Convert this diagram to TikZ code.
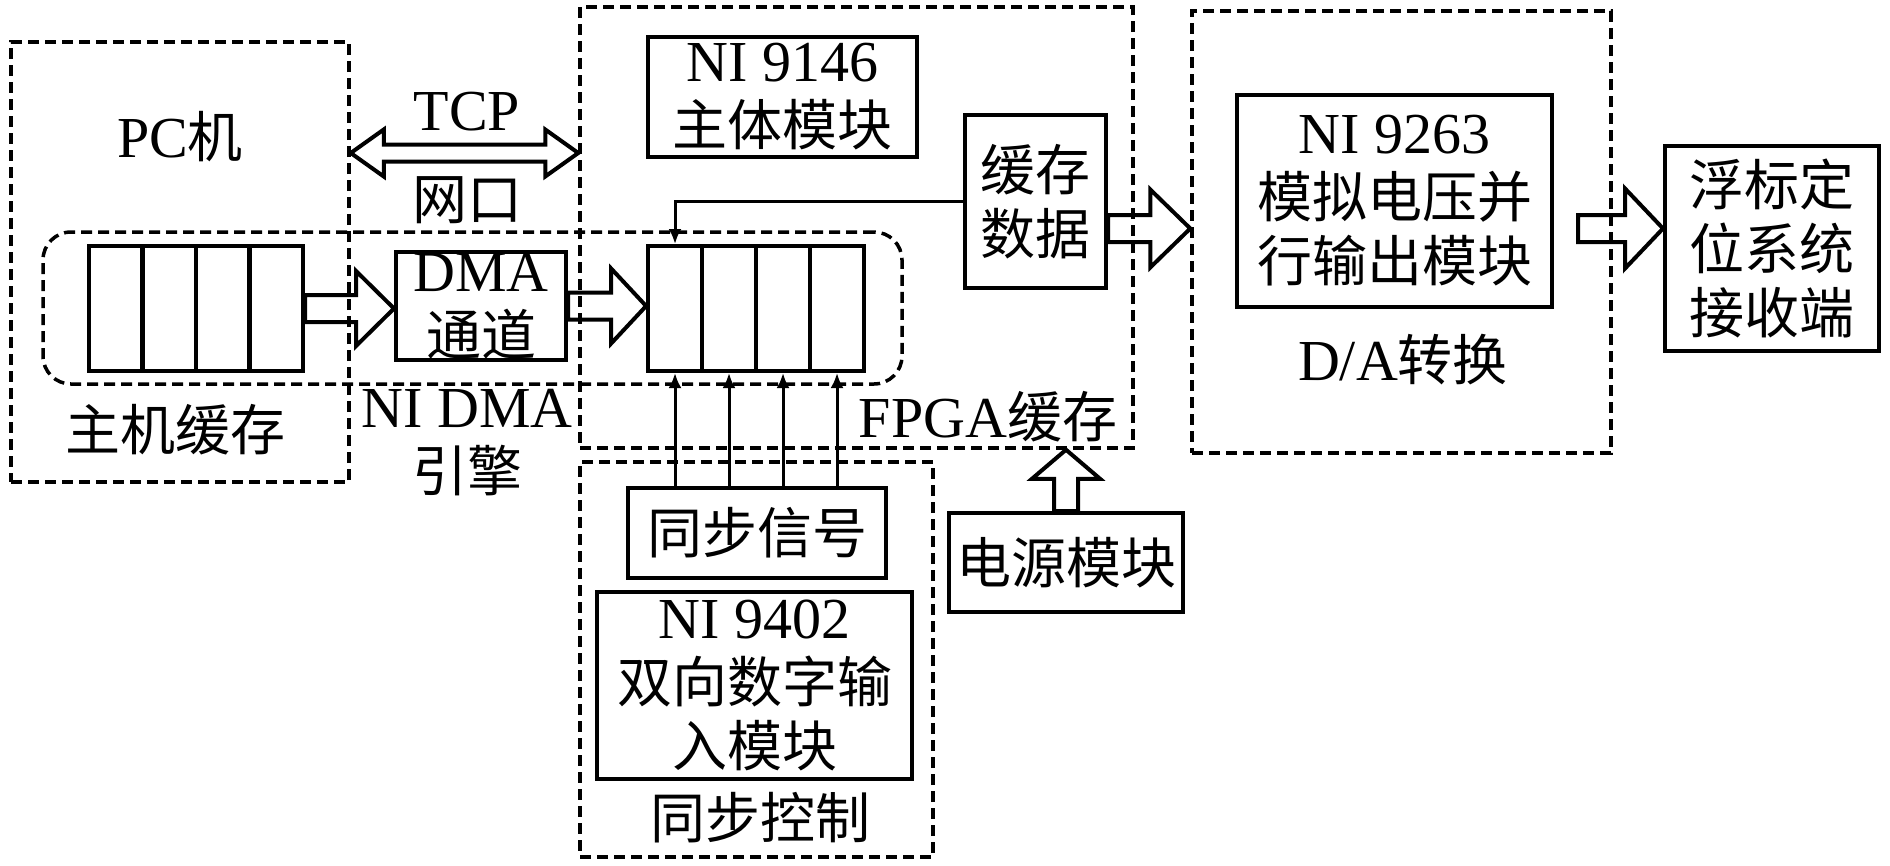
\documentclass[tikz,border=0pt]{standalone}
\usepackage{fontspec}
\setmainfont{Liberation Serif}
\newfontfamily\cjk{Noto Sans CJK SC}
\newcommand\zh[1]{{\cjk\fontsize{55}{64}\selectfont #1}}
\usetikzlibrary{calc,arrows.meta}

\tikzset{
  blk/.style={draw, line width=4pt, align=center, inner sep=0pt, font=\fontsize{58}{64}\selectfont},
  lbl/.style={align=center, inner sep=0pt, font=\fontsize{58}{64}\selectfont},
  grp/.style={draw, line width=3.5pt, dash pattern=on 11pt off 6pt, inner sep=0pt},
  cell/.style={draw, line width=4pt, minimum width=53.75pt, minimum height=125pt, inner sep=0pt},
  sig/.style={line width=3pt, -{Latex[length=15pt,width=13pt]}},
  fat/.style n args={3}{line width=4pt, line join=miter, to path={
    let \p1=($(\tikztotarget)!#3!(\tikztostart)$) in
    ($(\tikztostart)!#1!90:(\tikztotarget)$) -- ($(\p1)!#1!90:(\tikztotarget)$)
    -- ($(\p1)!#2!90:(\tikztotarget)$) -- (\tikztotarget)
    -- ($(\p1)!#2!-90:(\tikztotarget)$) -- ($(\p1)!#1!-90:(\tikztotarget)$)
    -- ($(\tikztostart)!#1!-90:(\tikztotarget)$) -- cycle}},
  twin/.style n args={3}{line width=4pt, line join=miter, to path={
    let \p1=($(\tikztostart)!#3!(\tikztotarget)$), \p2=($(\tikztotarget)!#3!(\tikztostart)$) in
    (\tikztostart) -- ($(\p1)!#2!90:(\tikztotarget)$) -- ($(\p1)!#1!90:(\tikztotarget)$)
    -- ($(\p2)!#1!90:(\tikztotarget)$) -- ($(\p2)!#2!90:(\tikztotarget)$) -- (\tikztotarget)
    -- ($(\p2)!#2!-90:(\tikztotarget)$) -- ($(\p2)!#1!-90:(\tikztotarget)$)
    -- ($(\p1)!#1!-90:(\tikztotarget)$) -- ($(\p1)!#2!-90:(\tikztotarget)$) -- cycle}},
}

\begin{document}
\begin{tikzpicture}[x=1pt,y=-1pt]
\useasboundingbox (0,0) rectangle (1890,865);

% dashed groups
\node[grp, minimum width=338pt, minimum height=440pt] (pc) at (180,262) {};
\node[grp, minimum width=553pt, minimum height=441pt] (fpga) at (856.5,227.5) {};
\node[grp, minimum width=419pt, minimum height=442pt] (da) at (1401.5,232) {};
\node[grp, minimum width=353pt, minimum height=395pt] (ctrl) at (756.5,659.5) {};
\node[grp, rounded corners=28pt, minimum width=859pt, minimum height=152pt] (eng) at (472.5,308) {};

% buffers
\foreach \i in {1,...,4} {
  \node[cell] (hb\i) at ({62.25+53.5*\i},308.5) {};
  \node[cell] (fb\i) at ({621+54*\i},308.5) {};
}

% blocks
\node[blk, minimum width=269pt, minimum height=120pt] (ni46) at (782.5,97) {NI 9146\\\zh{主体模块}};
\node[blk, minimum width=170pt, minimum height=108pt] (dma) at (481,306) {DMA\\\zh{通道}};
\node[blk, minimum width=141pt, minimum height=173pt] (cache) at (1035.5,201.5) {\zh{缓存}\\\zh{数据}};
\node[blk, minimum width=315pt, minimum height=212pt] (ni63) at (1394.5,201) {NI 9263\\\zh{模拟电压并}\\\zh{行输出模块}};
\node[blk, minimum width=214pt, minimum height=205pt] (buoy) at (1772,248.5) {\zh{浮标定}\\\zh{位系统}\\\zh{接收端}};
\node[blk, minimum width=258pt, minimum height=90pt] (sync) at (757,533) {\zh{同步信号}};
\node[blk, minimum width=315pt, minimum height=187pt] (ni02) at (754.5,685.5) {NI 9402\\\zh{双向数字输}\\\zh{入模块}};
\node[blk, minimum width=234pt, minimum height=99pt] (power) at (1066,562.5) {\zh{电源模块}};

% labels
\node[lbl] (pclbl) at (180,137) {PC\zh{机}};
\node[lbl] (hostlbl) at (175,430) {\zh{主机缓存}};
\node[lbl] (tcp) at (467,112) {TCP};
\node[lbl] (port) at (467,200) {\zh{网口}};
\node[lbl] (englbl) at (467,443) {NI DMA\\\zh{引擎}};
\node[lbl] (fpgalbl) at (988,417) {FPGA\zh{缓存}};
\node[lbl] (dalbl) at (1403,360) {D/A\zh{转换}};
\node[lbl] (ctrllbl) at (760,818) {\zh{同步控制}};

% block arrows
\coordinate (tcpmid) at (465,153);
\coordinate (c1) at ([yshift=-27pt]cache.east);
\coordinate (c2) at ($(c1 -| ni63.east)+(24,0)$);
\draw[twin={8.5pt}{23.5pt}{33pt}] (pc.east |- tcpmid) to (fpga.west |- tcpmid);
\draw[fat={13.5pt}{37.5pt}{38pt}] (hb4.east) to (hb4.east -| dma.west);
\draw[fat={13.5pt}{37.5pt}{35pt}] (dma.east) to (dma.east -| fb1.west);
\draw[fat={13.5pt}{39pt}{40pt}] (c1) to (c1 -| da.west);
\draw[fat={13.5pt}{40pt}{38pt}] (c2) to (c2 -| buoy.west);
\draw[fat={12pt}{34pt}{29pt}] (power.north) to (power.north |- fpga.south);

% signal lines
\draw[sig] (cache.west) -| (fb1.north);
\foreach \i in {1,...,4}
  \draw[sig] (sync.north -| fb\i.south) -- (fb\i.south);
\end{tikzpicture}
\end{document}
